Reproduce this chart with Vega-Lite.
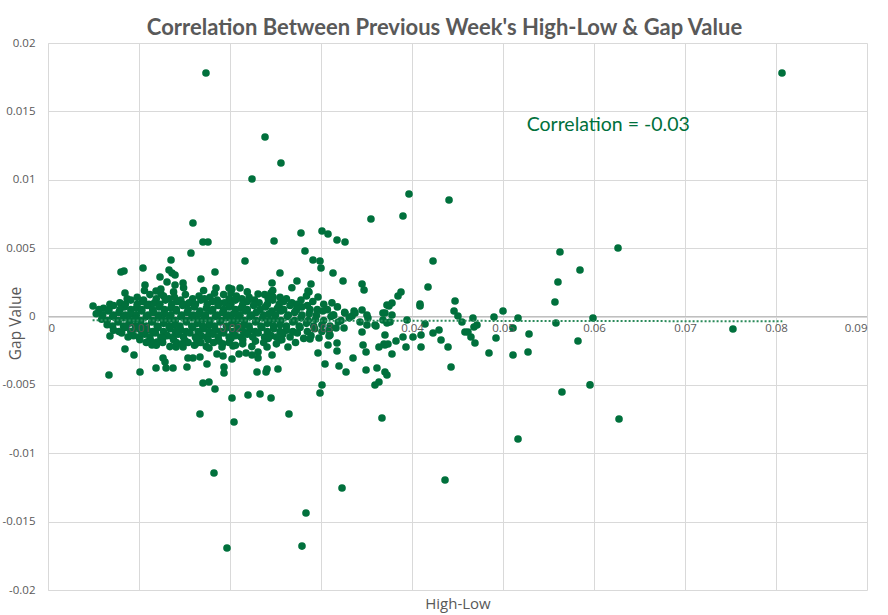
{
  "$schema": "https://vega.github.io/schema/vega-lite/v6.json",
  "width": 819,
  "height": 547,
  "autosize": {"type": "none"},
  "padding": {"left": 48, "top": 43, "right": 21, "bottom": 25},
  "background": "white",
  "title": {
    "text": "Correlation Between Previous Week's High-Low & Gap Value",
    "frame": "group",
    "font": "Lato",
    "fontSize": 22,
    "fontWeight": "bold",
    "color": "#595959",
    "anchor": "middle",
    "baseline": "alphabetic",
    "offset": 10,
    "dx": -13,
    "dy": 30
  },
  "datasets": {
    "zero": [{"y": 0}],
    "pts": [
      {"x":0.01736,"y":0.01781},{"x":0.08066,"y":0.01781},{"x":0.02385,"y":0.01313},{"x":0.0256,"y":0.01122},{"x":0.02242,"y":0.01005},
      {"x":0.03967,"y":0.00896},{"x":0.04407,"y":0.00852},{"x":0.03549,"y":0.00713},{"x":0.03901,"y":0.00735},{"x":0.01593,"y":0.00684},
      {"x":0.01703,"y":0.00545},{"x":0.01758,"y":0.00545},{"x":0.01571,"y":0.00464},{"x":0.01352,"y":0.00413},{"x":0.02484,"y":0.00552},
      {"x":0.02165,"y":0.00406},{"x":0.0278,"y":0.00611},{"x":0.03011,"y":0.00625},{"x":0.03077,"y":0.00603},{"x":0.03176,"y":0.00559},
      {"x":0.03264,"y":0.00545},{"x":0.02824,"y":0.00479},{"x":0.02912,"y":0.00413},{"x":0.02989,"y":0.00406},{"x":0.03,"y":0.00355},
      {"x":0.01044,"y":0.00355},{"x":0.00802,"y":0.00325},{"x":0.00835,"y":0.00333},{"x":0.0133,"y":0.0034},{"x":0.01835,"y":0.00325},
      {"x":0.03132,"y":0.00318},{"x":0.03242,"y":0.0026},{"x":0.02549,"y":0.00318},{"x":0.02736,"y":0.0026},{"x":0.02462,"y":0.00245},
      {"x":0.0289,"y":0.00238},{"x":0.02857,"y":0.00186},{"x":0.01363,"y":0.00318},{"x":0.01396,"y":0.00303},{"x":0.01231,"y":0.00289},
      {"x":0.01308,"y":0.00252},{"x":0.01396,"y":0.0023},{"x":0.01484,"y":0.00245},{"x":0.01681,"y":0.00274},{"x":0.01066,"y":0.0023},
      {"x":0.00846,"y":0.00172},{"x":0.00495,"y":0.00077},
      {"x":0.00681,"y":-0.00143},{"x":0.00846,"y":-0.00238},{"x":0.00945,"y":-0.00282},{"x":0.0067,"y":-0.00428},{"x":0.01011,"y":-0.00406},
      {"x":0.01187,"y":-0.00377},{"x":0.01297,"y":-0.00377},{"x":0.01374,"y":-0.00377},{"x":0.01527,"y":-0.00369},{"x":0.01593,"y":-0.00303},
      {"x":0.0167,"y":-0.00296},{"x":0.01857,"y":-0.00274},{"x":0.01923,"y":-0.00289},{"x":0.02022,"y":-0.00311},{"x":0.02099,"y":-0.00274},
      {"x":0.02176,"y":-0.00267},{"x":0.02242,"y":-0.00282},{"x":0.02308,"y":-0.0026},{"x":0.02308,"y":-0.00303},{"x":0.02407,"y":-0.00223},
      {"x":0.02407,"y":-0.00384},{"x":0.02462,"y":-0.00282},{"x":0.02527,"y":-0.00384},{"x":0.02549,"y":-0.00172},{"x":0.02637,"y":-0.00223},
      {"x":0.02692,"y":-0.00113},{"x":0.02967,"y":-0.00267},{"x":0.03044,"y":-0.00347},{"x":0.03198,"y":-0.00362},{"x":0.03275,"y":-0.00406},
      {"x":0.03352,"y":-0.00303},{"x":0.03176,"y":-0.00252},{"x":0.03077,"y":-0.00208},{"x":0.03088,"y":-0.00143},{"x":0.02978,"y":-0.00157},
      {"x":0.02879,"y":-0.00165},
      {"x":0.01187,"y":0.00186},{"x":0.01242,"y":0.00165},{"x":0.01989,"y":0.00208},{"x":0.02011,"y":0.00172},{"x":0.01846,"y":0.00208},
      {"x":0.01088,"y":-0.00186},{"x":0.01143,"y":-0.00208},{"x":0.01198,"y":-0.00186},{"x":0.01264,"y":-0.00303},{"x":0.01286,"y":-0.00333},
      {"x":0.01407,"y":-0.00223},{"x":0.01484,"y":-0.00223},{"x":0.01637,"y":-0.00194},{"x":0.01769,"y":-0.0023},{"x":0.01912,"y":-0.00223},
      {"x":0.01747,"y":-0.00347},{"x":0.01934,"y":-0.00369},{"x":0.02033,"y":-0.00216},{"x":0.01538,"y":-0.00303},
      {"x":0.01934,"y":-0.00413},{"x":0.01703,"y":-0.00486},{"x":0.01769,"y":-0.00479},{"x":0.01835,"y":-0.0053},{"x":0.02022,"y":-0.00596},
      {"x":0.02044,"y":-0.00771},{"x":0.0167,"y":-0.00713},{"x":0.02198,"y":-0.00574},{"x":0.0233,"y":-0.00567},{"x":0.02451,"y":-0.00596},
      {"x":0.02648,"y":-0.00713},{"x":0.02297,"y":-0.00406},{"x":0.02396,"y":-0.00406},{"x":0.03495,"y":-0.00391},{"x":0.03703,"y":-0.00406},
      {"x":0.03725,"y":-0.00428},{"x":0.03011,"y":-0.00501},{"x":0.02989,"y":-0.00559},{"x":0.03593,"y":-0.00501},{"x":0.03637,"y":-0.00479},
      {"x":0.0367,"y":-0.00742},
      {"x":0.01967,"y":-0.01693},{"x":0.02791,"y":-0.01679},{"x":0.02835,"y":-0.01437},{"x":0.03231,"y":-0.01254},{"x":0.04363,"y":-0.01196},
      {"x":0.01824,"y":-0.01144},{"x":0.05165,"y":-0.00896},{"x":0.06275,"y":-0.0075},{"x":0.05956,"y":-0.005},{"x":0.05648,"y":-0.00552},
      {"x":0.07527,"y":-0.00091},
      {"x":0.04231,"y":0.00406},{"x":0.05626,"y":0.00472},{"x":0.05846,"y":0.0034},{"x":0.06264,"y":0.00501},{"x":0.03451,"y":0.00238},
      {"x":0.03473,"y":0.00194},{"x":0.04176,"y":0.00216},{"x":0.03879,"y":0.00179},{"x":0.03846,"y":0.0015},{"x":0.0378,"y":0.00099},
      {"x":0.03747,"y":0.00077},{"x":0.04088,"y":0.00091},{"x":0.04088,"y":0.00077},{"x":0.04473,"y":0.00113},{"x":0.04462,"y":0.0004},
      {"x":0.04505,"y":0.00004},{"x":0.04549,"y":-0.0004},{"x":0.05604,"y":0.00252},{"x":0.05571,"y":0.00106},{"x":0.05,"y":0.0004},
      {"x":0.05165,"y":-0.00011},{"x":0.04901,"y":-0.00004},{"x":0.05989,"y":-0.00011},{"x":0.0467,"y":-0.00011},{"x":0.05582,"y":-0.00048},
      {"x":0.0511,"y":-0.00084},{"x":0.05286,"y":-0.00128},{"x":0.04923,"y":-0.00157},{"x":0.05824,"y":-0.00179},{"x":0.04846,"y":-0.00267},
      {"x":0.0511,"y":-0.00282},{"x":0.05275,"y":-0.0026},{"x":0.04429,"y":-0.00369},{"x":0.04692,"y":-0.00194},{"x":0.04648,"y":-0.0015},
      {"x":0.04714,"y":-0.00062},{"x":0.04396,"y":-0.00223},{"x":0.04319,"y":-0.00172},{"x":0.04297,"y":-0.00099},{"x":0.04231,"y":-0.00121},
      {"x":0.04099,"y":-0.00223},{"x":0.04099,"y":-0.00135},{"x":0.04011,"y":-0.0015},{"x":0.03934,"y":-0.00223},{"x":0.03901,"y":-0.0015},
      {"x":0.03824,"y":-0.00179},{"x":0.0378,"y":-0.00274},{"x":0.03703,"y":-0.00135},{"x":0.03462,"y":-0.00208},{"x":0.03495,"y":-0.0026},
      {"x":0.03451,"y":-0.00113},{"x":0.03505,"y":-0.00062},{"x":0.03637,"y":-0.00223},{"x":0.03692,"y":-0.00201},{"x":0.03736,"y":-0.00201},
      {"x":0.03604,"y":-0.00069},{"x":0.03681,"y":0.00026},{"x":0.0378,"y":0.00011},{"x":0.03945,"y":-0.00026},{"x":0.04143,"y":-0.00055},
      {"x":0.04582,"y":-0.00113},{"x":0.04615,"y":-0.00113},{"x":0.04681,"y":-0.00077},{"x":0.03363,"y":0.0004},{"x":0.03451,"y":0.00048},
      {"x":0.03341,"y":0.00004},{"x":0.03516,"y":-0.00011},{"x":0.03681,"y":-0.00026},{"x":0.03725,"y":-0.00048},{"x":0.03758,"y":-0.0004},
      {"x":0.0211,"y":0.00208},{"x":0.02308,"y":0.00165},{"x":0.0245,"y":0.00172},{"x":0.02473,"y":0.00143},{"x":0.0256,"y":0.00106},
      {"x":0.02868,"y":0.00179},{"x":0.02967,"y":0.00143},{"x":0.02022,"y":0.00121},{"x":0.03132,"y":0.00011},{"x":0.03264,"y":0.00026},
      {"x":0.03374,"y":0.00026},{"x":0.03505,"y":0.00011},{"x":0.03429,"y":-0.0004},{"x":0.03593,"y":-0.00062},{"x":0.03725,"y":0.00084},
      {"x":0.03703,"y":0.00026},{"x":0.03703,"y":-0.00208},{"x":0.03165,"y":-0.00084},{"x":0.03253,"y":-0.00084},{"x":0.03099,"y":-0.00135},
      {"x":0.03176,"y":-0.00194},{"x":0.03615,"y":-0.00377},
      {"x":0.0106,"y":0.0019},{"x":0.0124,"y":0.002},{"x":0.0138,"y":0.0018},{"x":0.0149,"y":0.0021},{"x":0.0171,"y":0.0019},
      {"x":0.0183,"y":0.0017},{"x":0.0202,"y":0.002},{"x":0.0219,"y":0.0018},{"x":0.0247,"y":0.0019},{"x":0.0268,"y":0.0021},
      {"x":0.0098,"y":0.0014},{"x":0.0112,"y":0.0016},{"x":0.0127,"y":0.0015},{"x":0.0139,"y":0.0014},{"x":0.0151,"y":0.0016},
      {"x":0.0166,"y":0.0015},{"x":0.0178,"y":0.0014},{"x":0.0193,"y":0.0016},{"x":0.0207,"y":0.0015},{"x":0.0221,"y":0.0014},
      {"x":0.0238,"y":0.0016},{"x":0.0262,"y":0.0013},{"x":0.0284,"y":0.0015},
      {"x":0.0087,"y":0.0013},{"x":0.0105,"y":0.0012},{"x":0.0119,"y":0.0013},{"x":0.0133,"y":0.0013},{"x":0.0146,"y":0.0012},
      {"x":0.0159,"y":0.0013},{"x":0.0172,"y":0.0013},{"x":0.0186,"y":0.0012},{"x":0.0199,"y":0.0013},{"x":0.0213,"y":0.0013},
      {"x":0.0227,"y":0.0012},{"x":0.0242,"y":0.0013},{"x":0.0255,"y":0.0014},{"x":0.0278,"y":0.0012},
      {"x":0.0079,"y":0.001},{"x":0.0091,"y":0.0012},{"x":0.0104,"y":0.0011},{"x":0.0117,"y":0.001},{"x":0.0129,"y":0.0012},
      {"x":0.0142,"y":0.0011},{"x":0.0155,"y":0.001},{"x":0.0168,"y":0.0012},{"x":0.0181,"y":0.0011},{"x":0.0194,"y":0.001},
      {"x":0.0206,"y":0.0012},{"x":0.0219,"y":0.0011},{"x":0.0232,"y":0.001},{"x":0.0247,"y":0.0012},{"x":0.0259,"y":0.0011},
      {"x":0.0273,"y":0.0009},{"x":0.0291,"y":0.0011},{"x":0.0312,"y":0.001},
      {"x":0.0068,"y":0.0009},{"x":0.0085,"y":0.0009},{"x":0.0098,"y":0.0009},{"x":0.0111,"y":0.0009},{"x":0.0123,"y":0.0009},
      {"x":0.0136,"y":0.0009},{"x":0.0149,"y":0.0009},{"x":0.0162,"y":0.0009},{"x":0.0175,"y":0.0009},{"x":0.0188,"y":0.001},
      {"x":0.0201,"y":0.0009},{"x":0.0214,"y":0.0009},{"x":0.0227,"y":0.0009},{"x":0.0241,"y":0.0009},{"x":0.0254,"y":0.0009},
      {"x":0.0268,"y":0.001},{"x":0.0285,"y":0.0008},{"x":0.0303,"y":0.0009},
      {"x":0.0061,"y":0.0006},{"x":0.0072,"y":0.0008},{"x":0.0084,"y":0.0007},{"x":0.0097,"y":0.0006},{"x":0.0109,"y":0.0008},
      {"x":0.0122,"y":0.0007},{"x":0.0135,"y":0.0006},{"x":0.0148,"y":0.0008},{"x":0.0161,"y":0.0007},{"x":0.0174,"y":0.0006},
      {"x":0.0187,"y":0.0008},{"x":0.0199,"y":0.0007},{"x":0.0212,"y":0.0006},{"x":0.0226,"y":0.0008},{"x":0.0239,"y":0.0007},
      {"x":0.0252,"y":0.0006},{"x":0.0266,"y":0.0008},{"x":0.0279,"y":0.0007},{"x":0.0296,"y":0.0005},{"x":0.0318,"y":0.0007},
      {"x":0.0056,"y":0.0005},{"x":0.0067,"y":0.0005},{"x":0.0079,"y":0.0005},{"x":0.0091,"y":0.0005},{"x":0.0103,"y":0.0005},
      {"x":0.0115,"y":0.0005},{"x":0.0128,"y":0.0005},{"x":0.0141,"y":0.0005},{"x":0.0154,"y":0.0005},{"x":0.0167,"y":0.0004},
      {"x":0.0181,"y":0.0005},{"x":0.0193,"y":0.0005},{"x":0.0206,"y":0.0005},{"x":0.0219,"y":0.0005},{"x":0.0233,"y":0.0005},
      {"x":0.0246,"y":0.0004},{"x":0.0259,"y":0.0005},{"x":0.0273,"y":0.0005},{"x":0.0288,"y":0.0005},{"x":0.0307,"y":0.0005},
      {"x":0.0053,"y":0.0002},{"x":0.0066,"y":0.0004},{"x":0.0078,"y":0.0003},{"x":0.0091,"y":0.0002},{"x":0.0103,"y":0.0004},
      {"x":0.0116,"y":0.0003},{"x":0.0128,"y":0.0002},{"x":0.0141,"y":0.0004},{"x":0.0153,"y":0.0003},{"x":0.0166,"y":0.0002},
      {"x":0.0179,"y":0.0004},{"x":0.0192,"y":0.0003},{"x":0.0204,"y":0.0002},{"x":0.0217,"y":0.0004},{"x":0.0229,"y":0.0003},
      {"x":0.0243,"y":0.0002},{"x":0.0256,"y":0.0004},{"x":0.0271,"y":0.0003},{"x":0.0287,"y":0.0002},{"x":0.0302,"y":0.0004},
      {"x":0.0326,"y":0.0003},
      {"x":0.006,"y":0.0001},{"x":0.0072,"y":0.0001},{"x":0.0085,"y":0.0001},{"x":0.0097,"y":0.0001},{"x":0.011,"y":0.0001},
      {"x":0.0122,"y":0.0001},{"x":0.0135,"y":0.0001},{"x":0.0147,"y":0.0001},{"x":0.016,"y":0.0001},{"x":0.0173,"y":0.0001},
      {"x":0.0186,"y":0.0001},{"x":0.0198,"y":0.0001},{"x":0.0211,"y":0.0001},{"x":0.0224,"y":0.0001},{"x":0.0237,"y":0.0001},
      {"x":0.025,"y":0.0001},{"x":0.0264,"y":0.0001},{"x":0.0279,"y":0.0001},{"x":0.0295,"y":0.0001},{"x":0.0314,"y":0.0001},
      {"x":0.0059,"y":-0.0002},{"x":0.0071,"y":0.0},{"x":0.0083,"y":-0.0001},{"x":0.0096,"y":-0.0002},{"x":0.0108,"y":0.0},
      {"x":0.0121,"y":-0.0001},{"x":0.0133,"y":-0.0002},{"x":0.0146,"y":0.0},{"x":0.0158,"y":-0.0001},{"x":0.0171,"y":-0.0002},
      {"x":0.0184,"y":0.0},{"x":0.0196,"y":-0.0001},{"x":0.0209,"y":-0.0002},{"x":0.0222,"y":0.0},{"x":0.0236,"y":-0.0001},
      {"x":0.0249,"y":-0.0002},{"x":0.0263,"y":0.0},{"x":0.0278,"y":-0.0001},{"x":0.0294,"y":-0.0002},{"x":0.0311,"y":0.0},
      {"x":0.0331,"y":-0.0001},
      {"x":0.0065,"y":-0.0003},{"x":0.0077,"y":-0.0003},{"x":0.009,"y":-0.0003},{"x":0.0102,"y":-0.0003},{"x":0.0115,"y":-0.0003},
      {"x":0.0127,"y":-0.0003},{"x":0.014,"y":-0.0003},{"x":0.0152,"y":-0.0003},{"x":0.0165,"y":-0.0003},{"x":0.0178,"y":-0.0003},
      {"x":0.019,"y":-0.0003},{"x":0.0203,"y":-0.0003},{"x":0.0216,"y":-0.0003},{"x":0.0229,"y":-0.0003},{"x":0.0243,"y":-0.0003},
      {"x":0.0256,"y":-0.0003},{"x":0.0271,"y":-0.0003},{"x":0.0286,"y":-0.0003},{"x":0.0303,"y":-0.0003},{"x":0.0322,"y":-0.0003},
      {"x":0.0065,"y":-0.0006},{"x":0.0077,"y":-0.0004},{"x":0.0089,"y":-0.0005},{"x":0.0102,"y":-0.0006},{"x":0.0114,"y":-0.0004},
      {"x":0.0127,"y":-0.0005},{"x":0.0139,"y":-0.0006},{"x":0.0152,"y":-0.0004},{"x":0.0164,"y":-0.0005},{"x":0.0177,"y":-0.0006},
      {"x":0.0189,"y":-0.0004},{"x":0.0202,"y":-0.0005},{"x":0.0215,"y":-0.0006},{"x":0.0228,"y":-0.0004},{"x":0.0241,"y":-0.0005},
      {"x":0.0255,"y":-0.0006},{"x":0.0269,"y":-0.0004},{"x":0.0284,"y":-0.0005},{"x":0.0301,"y":-0.0006},{"x":0.0319,"y":-0.0004},
      {"x":0.0071,"y":-0.0007},{"x":0.0083,"y":-0.0007},{"x":0.0096,"y":-0.0007},{"x":0.0108,"y":-0.0007},{"x":0.012,"y":-0.0007},
      {"x":0.0133,"y":-0.0007},{"x":0.0145,"y":-0.0007},{"x":0.0158,"y":-0.0007},{"x":0.017,"y":-0.0007},{"x":0.0183,"y":-0.0007},
      {"x":0.0196,"y":-0.0007},{"x":0.0208,"y":-0.0007},{"x":0.0221,"y":-0.0007},{"x":0.0234,"y":-0.0007},{"x":0.0248,"y":-0.0007},
      {"x":0.0262,"y":-0.0007},{"x":0.0276,"y":-0.0007},{"x":0.0292,"y":-0.0007},{"x":0.031,"y":-0.0007},
      {"x":0.0072,"y":-0.001},{"x":0.0085,"y":-0.0008},{"x":0.0097,"y":-0.0009},{"x":0.0109,"y":-0.001},{"x":0.0121,"y":-0.0008},
      {"x":0.0134,"y":-0.0009},{"x":0.0146,"y":-0.001},{"x":0.0159,"y":-0.0008},{"x":0.0171,"y":-0.0009},{"x":0.0184,"y":-0.001},
      {"x":0.0197,"y":-0.0008},{"x":0.0209,"y":-0.0009},{"x":0.0222,"y":-0.001},{"x":0.0235,"y":-0.0008},{"x":0.0248,"y":-0.0009},
      {"x":0.0262,"y":-0.001},{"x":0.0277,"y":-0.0008},{"x":0.0293,"y":-0.0009},{"x":0.0309,"y":-0.001},
      {"x":0.0078,"y":-0.0011},{"x":0.0091,"y":-0.0011},{"x":0.0103,"y":-0.0011},{"x":0.0115,"y":-0.0011},{"x":0.0127,"y":-0.0011},
      {"x":0.014,"y":-0.0011},{"x":0.0152,"y":-0.0011},{"x":0.0165,"y":-0.0011},{"x":0.0177,"y":-0.0011},{"x":0.019,"y":-0.0011},
      {"x":0.0203,"y":-0.0011},{"x":0.0215,"y":-0.0011},{"x":0.0228,"y":-0.0011},{"x":0.0241,"y":-0.0011},{"x":0.0255,"y":-0.0011},
      {"x":0.0269,"y":-0.0011},{"x":0.0285,"y":-0.0011},{"x":0.0301,"y":-0.0011},
      {"x":0.0081,"y":-0.0012},{"x":0.0094,"y":-0.0014},{"x":0.0106,"y":-0.0013},{"x":0.0118,"y":-0.0012},{"x":0.0131,"y":-0.0014},
      {"x":0.0143,"y":-0.0013},{"x":0.0156,"y":-0.0012},{"x":0.0168,"y":-0.0014},{"x":0.0181,"y":-0.0013},{"x":0.0193,"y":-0.0012},
      {"x":0.0206,"y":-0.0014},{"x":0.0219,"y":-0.0013},{"x":0.0231,"y":-0.0012},{"x":0.0245,"y":-0.0014},{"x":0.0258,"y":-0.0013},
      {"x":0.0274,"y":-0.0012},{"x":0.0289,"y":-0.0014},
      {"x":0.0088,"y":-0.0015},{"x":0.01,"y":-0.0015},{"x":0.0112,"y":-0.0015},{"x":0.0124,"y":-0.0015},{"x":0.0137,"y":-0.0015},
      {"x":0.0149,"y":-0.0015},{"x":0.0162,"y":-0.0015},{"x":0.0174,"y":-0.0015},{"x":0.0187,"y":-0.0015},{"x":0.0199,"y":-0.0015},
      {"x":0.0212,"y":-0.0015},{"x":0.0225,"y":-0.0015},{"x":0.0238,"y":-0.0015},{"x":0.0251,"y":-0.0015},{"x":0.0266,"y":-0.0015},
      {"x":0.0281,"y":-0.0016},
      {"x":0.0101,"y":-0.0017},{"x":0.0113,"y":-0.0018},{"x":0.0126,"y":-0.0016},{"x":0.0138,"y":-0.0017},{"x":0.0151,"y":-0.0018},
      {"x":0.0163,"y":-0.0016},{"x":0.0176,"y":-0.0017},{"x":0.0188,"y":-0.0018},{"x":0.0201,"y":-0.0016},{"x":0.0214,"y":-0.0017},
      {"x":0.0228,"y":-0.0018},{"x":0.0242,"y":-0.0016},{"x":0.0257,"y":-0.0017},{"x":0.0272,"y":-0.0019},
      {"x":0.0108,"y":-0.0019},{"x":0.0126,"y":-0.0019},{"x":0.0141,"y":-0.0019},{"x":0.0154,"y":-0.0019},{"x":0.0168,"y":-0.0019},
      {"x":0.0182,"y":-0.0019},{"x":0.0199,"y":-0.0019},{"x":0.0214,"y":-0.002},{"x":0.0237,"y":-0.0019},
      {"x":0.0119,"y":-0.0021},{"x":0.0134,"y":-0.0022},{"x":0.0147,"y":-0.002},{"x":0.0161,"y":-0.0021},{"x":0.0174,"y":-0.0022},
      {"x":0.0192,"y":-0.002},{"x":0.0206,"y":-0.0021},{"x":0.0224,"y":-0.0022},{"x":0.0251,"y":-0.002}
    ],
    "trend": [
      {"x": 0.0049, "y": -0.00028},
      {"x": 0.0807, "y": -0.00035}
    ],
    "note": [
      {"x": 0.0526, "y": 0.0140, "label": "Correlation = -0.03"}
    ]
  },
  "layer": [
    {
      "data": {"name": "zero"},
      "mark": {"type": "rule", "color": "#bfbfbf", "strokeWidth": 1},
      "encoding": {
        "y": {"field": "y", "type": "quantitative"}
      }
    },
    {
      "data": {"name": "pts"},
      "mark": {"type": "circle", "size": 58, "opacity": 1, "color": "#00703c"},
      "encoding": {
        "x": {
          "field": "x",
          "type": "quantitative",
          "scale": {"domain": [0, 0.09], "nice": false, "zero": false},
          "axis": {
            "orient": "bottom",
            "offset": -273.5,
            "zindex": 1,
            "values": [0, 0.01, 0.02, 0.03, 0.04, 0.05, 0.06, 0.07, 0.08, 0.09],
            "labelExpr": "replace(format(datum.value, '~g'), '\u2212', '-')",
            "grid": false,
            "domain": false,
            "ticks": false,
            "labelPadding": 6,
            "labelFont": "Open Sans",
            "labelFontSize": 11.5,
            "labelColor": "#595959",
            "title": "High-Low",
            "titleFont": "Open Sans",
            "titleFontSize": 15,
            "titleFontWeight": "normal",
            "titleColor": "#595959",
            "titleY": 287,
            "titleBaseline": "middle"
          }
        },
        "y": {
          "field": "y",
          "type": "quantitative",
          "scale": {"domain": [-0.02, 0.02], "nice": false, "zero": false},
          "axis": {
            "values": [-0.02, -0.015, -0.01, -0.005, 0, 0.005, 0.01, 0.015, 0.02],
            "labelExpr": "replace(format(datum.value, '~g'), '\u2212', '-')",
            "grid": true,
            "gridColor": "#d9d9d9",
            "domainColor": "#d9d9d9",
            "ticks": false,
            "labelPadding": 13,
            "labelFont": "Open Sans",
            "labelFontSize": 11.5,
            "labelColor": "#595959",
            "title": "Gap Value",
            "titleFont": "Open Sans",
            "titleFontSize": 15.5,
            "titleFontWeight": "normal",
            "titleColor": "#595959",
            "titleX": -33,
            "titleY": 280,
            "titleAlign": "center",
            "titleBaseline": "middle"
          }
        }
      }
    },
    {
      "data": {"name": "trend"},
      "mark": {"type": "line", "color": "#2a8a5a", "strokeWidth": 2, "strokeDash": [2, 2]},
      "encoding": {
        "x": {
          "field": "x",
          "type": "quantitative",
          "axis": {
            "orient": "bottom",
            "values": [0, 0.01, 0.02, 0.03, 0.04, 0.05, 0.06, 0.07, 0.08, 0.09],
            "grid": true,
            "gridColor": "#d9d9d9",
            "domain": false,
            "ticks": false,
            "labels": false,
            "title": null
          }
        },
        "y": {"field": "y", "type": "quantitative"}
      }
    },
    {
      "data": {"name": "note"},
      "mark": {"type": "text", "align": "left", "baseline": "middle", "font": "Lato", "fontSize": 19.5, "color": "#00703c"},
      "encoding": {
        "x": {"field": "x", "type": "quantitative", "axis": null},
        "y": {"field": "y", "type": "quantitative"},
        "text": {"field": "label"}
      }
    }
  ],
  "resolve": {"axis": {"x": "independent"}},
  "config": {
    "view": {"stroke": null}
  }
}
